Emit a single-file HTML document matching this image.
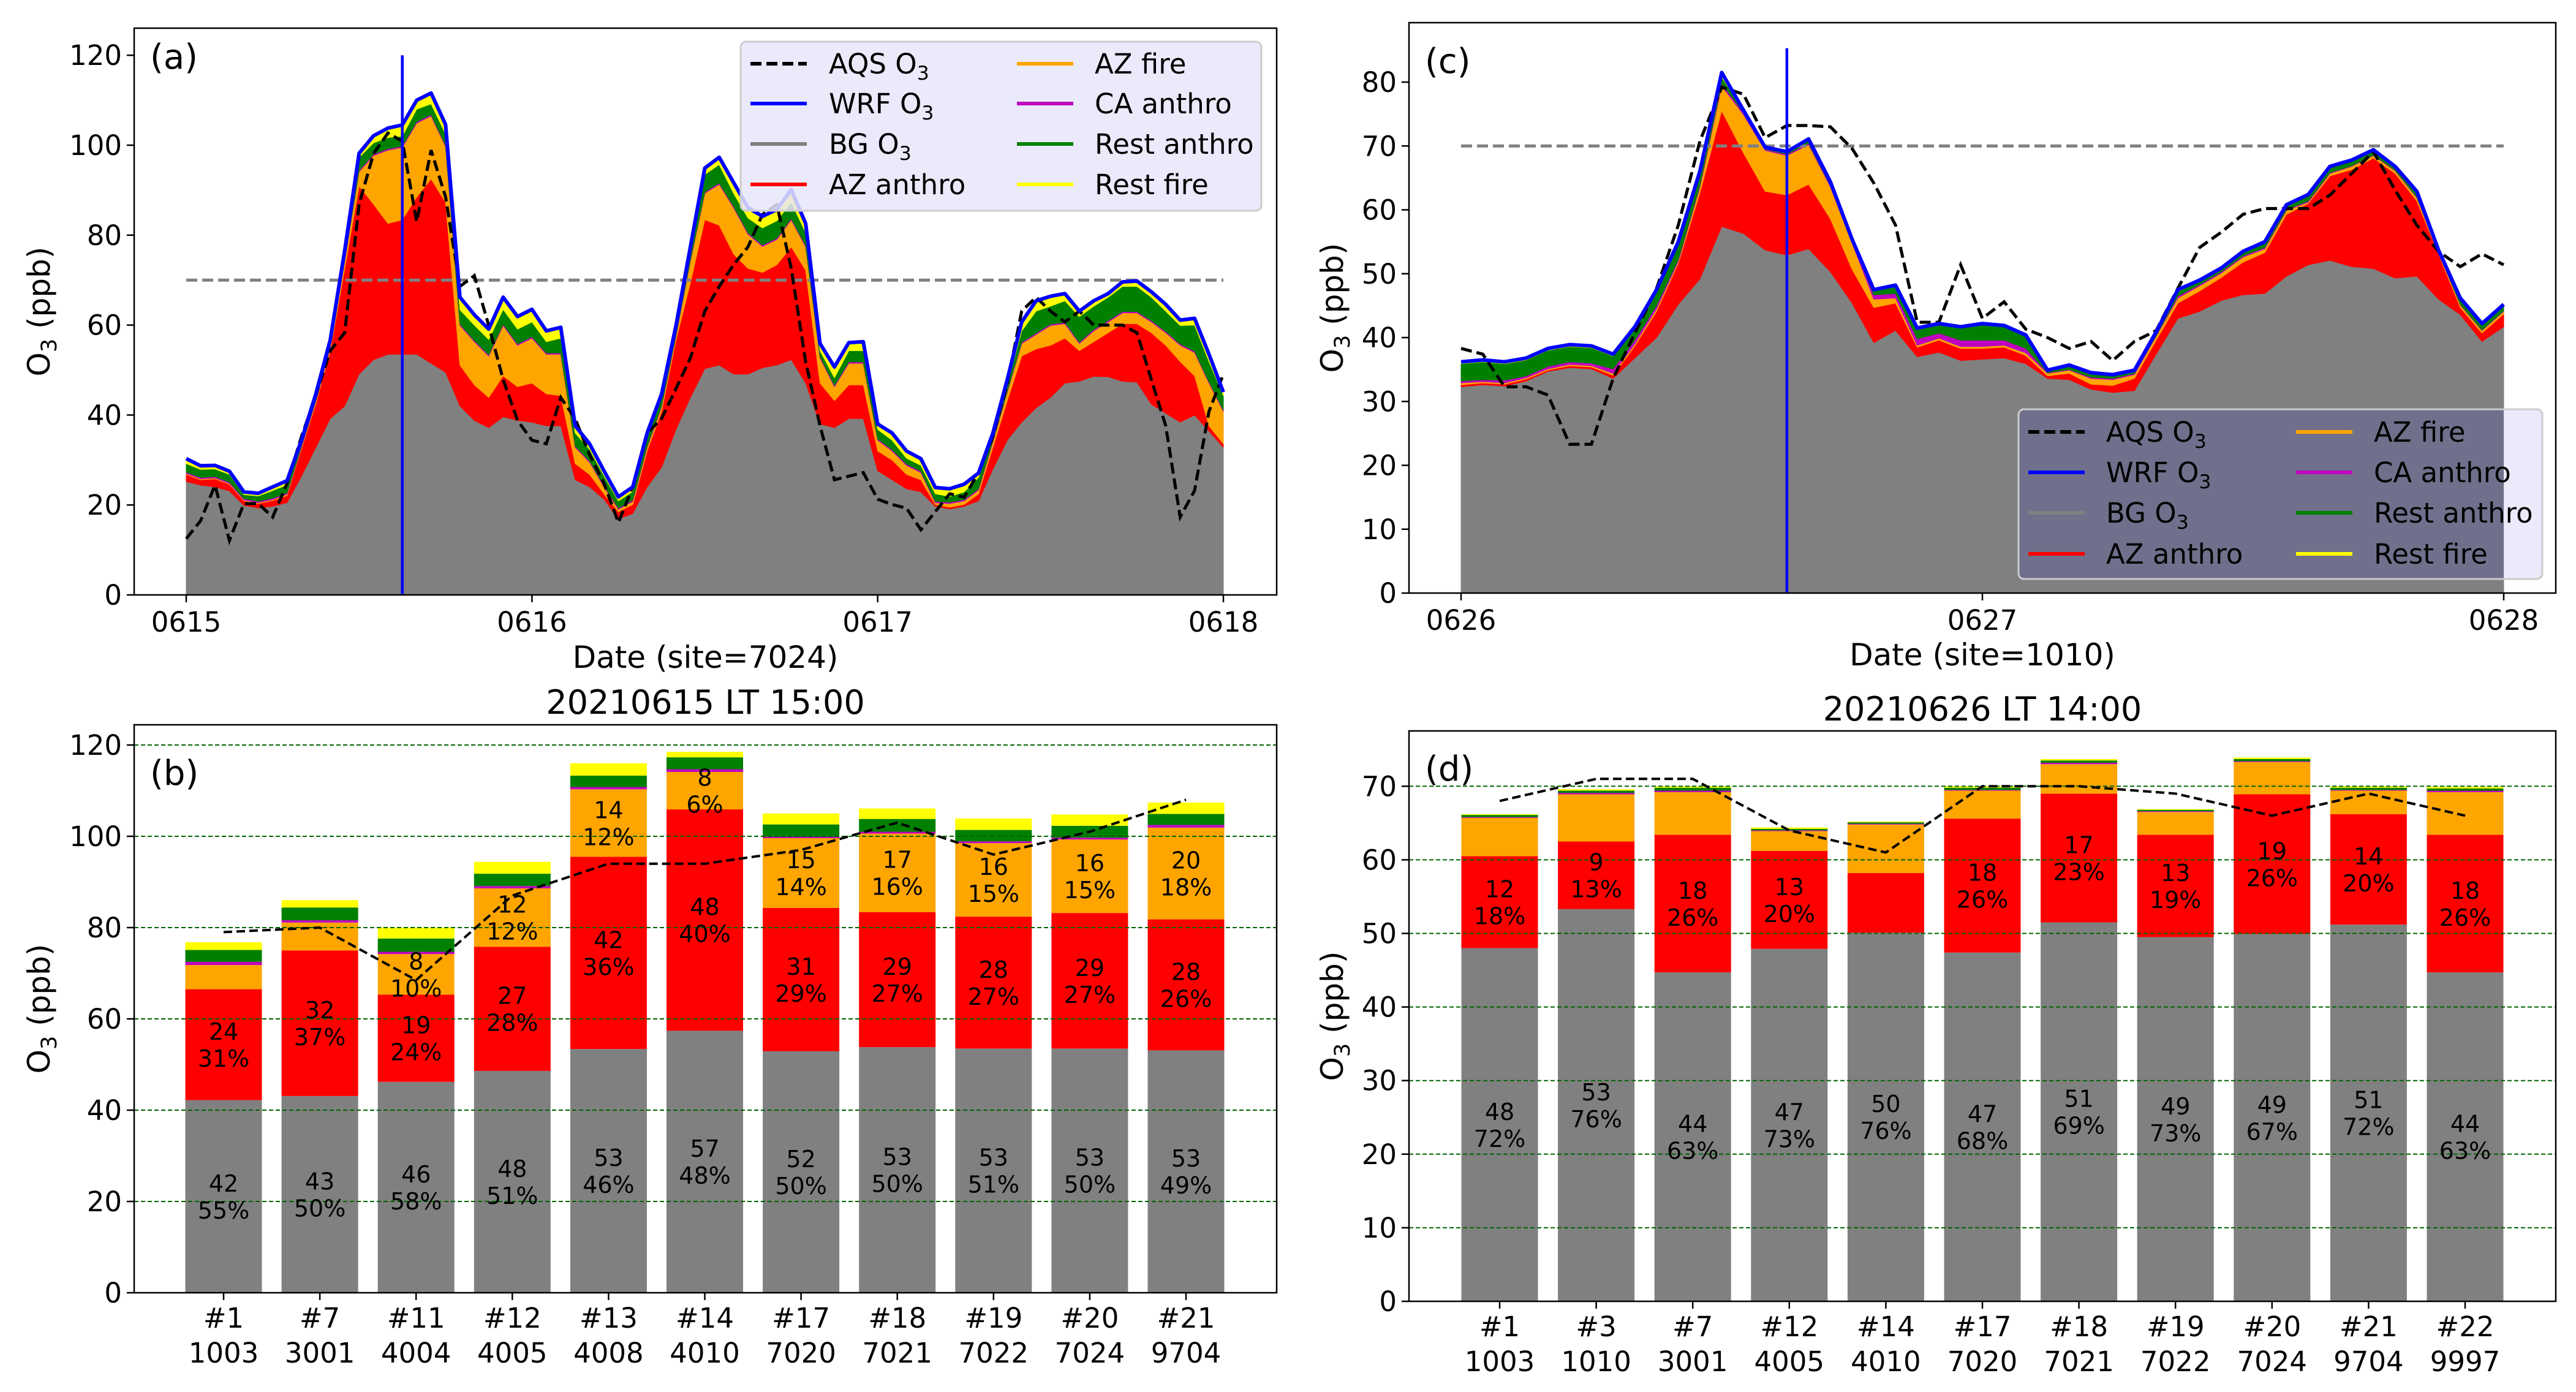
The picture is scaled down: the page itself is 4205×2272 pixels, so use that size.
<!DOCTYPE html>
<html><head><meta charset="utf-8">
<style>
body{margin:0;background:#fff;}
svg{display:block;font-family:"DejaVu Sans","Liberation Sans",sans-serif;}
</style></head>
<body>
<svg id="fig" width="4205" height="2272" viewBox="0 0 4205 2272" xmlns="http://www.w3.org/2000/svg"></svg>
<script>
// ---------- Panel (a) hourly data, 0615 00 .. 0618 00 ----------
const dayTicksA = ['0615','0616','0617','0618'];
const yTicksA = [0,20,40,60,80,100,120];
const bgA = [25.2,24.4,24.0,23.1,19.9,19.3,19.7,20.5,26.4,32.8,39.2,42.0,49.1,52.3,53.5,53.5,53.5,51.5,49.5,42.0,38.8,37.2,39.6,38.8,38.4,37.6,37.6,25.6,24.0,21.3,16.9,18.1,24.0,28.4,36.8,43.9,50.3,51.1,49.1,49.1,50.5,51.1,52.3,47.1,38.0,37.2,39.2,39.2,27.6,25.6,23.6,22.9,19.7,19.1,19.7,20.9,28.0,34.4,38.4,41.6,43.9,47.1,47.5,48.6,48.5,47.5,47.3,42.4,40.4,38.4,40.0,36.4,32.8];
const azAnthroTopA = [26.8,25.6,25.8,24.6,20.9,20.3,21.0,22.1,32.5,42.5,54.3,72.6,90.9,86.9,82.6,83.4,88.5,92.5,87.3,51.1,46.7,43.9,48.7,46.3,47.1,44.7,44.3,29.2,26.8,22.5,18.5,20.1,32.0,40.8,56.7,69.4,83.4,82.2,75.8,72.6,71.7,73.4,77.4,72.2,47.1,43.2,46.7,46.7,32.0,30.0,26.8,25.6,20.1,19.5,20.1,22.5,32.8,43.2,53.1,54.7,55.5,57.1,54.3,56.3,58.3,60.3,60.3,58.3,55.5,51.9,48.7,37.6,33.6];
const azFireTopA = [27.0,25.8,26.0,24.8,21.1,20.5,21.2,22.4,32.8,43.0,55.0,74.2,94.1,97.7,98.9,99.5,104.9,106.5,99.7,59.9,56.3,53.1,59.9,55.5,57.1,53.5,53.5,32.8,29.5,24.0,19.0,20.8,32.8,41.8,57.5,74.2,89.3,91.3,86.1,80.2,77.5,79.0,83.4,77.4,52.7,46.3,51.5,51.5,34.4,32.0,28.8,27.2,20.5,20.3,20.9,23.3,34.0,45.1,55.9,57.9,59.9,60.3,55.9,58.7,60.7,62.7,62.7,60.7,58.3,55.5,53.9,47.1,40.8];
const caTopA = [27.3,26.1,26.3,25.1,21.4,20.8,21.5,22.7,33.1,43.3,55.3,74.5,94.4,98.0,99.2,99.8,105.2,106.8,100.0,60.2,56.6,53.4,60.2,55.8,57.4,53.8,53.8,33.1,29.8,24.3,19.3,21.1,33.1,42.1,57.8,74.5,89.6,91.6,86.4,80.5,77.8,79.3,83.7,77.7,53.0,46.6,51.8,51.8,34.7,32.3,29.1,27.5,20.8,20.6,21.2,23.6,34.3,45.4,56.2,58.2,60.2,60.6,56.2,59.0,61.0,63.0,63.0,61.0,58.6,55.8,54.2,47.4,41.1];
const restAnthroTopA = [29.2,27.9,28.0,26.8,22.3,22.0,23.2,24.5,33.8,44.0,56.0,76.0,97.3,100.5,101.7,102.0,108.0,109.2,102.5,63.4,60.0,56.8,63.5,59.1,60.7,56.3,57.1,36.0,32.4,26.5,20.9,23.0,35.0,43.8,59.0,76.6,93.5,95.7,89.3,83.8,81.6,83.2,87.3,80.6,54.3,48.3,54.3,54.3,36.8,34.4,30.4,28.8,22.5,21.9,22.9,26.1,35.2,46.7,58.7,63.1,64.2,65.4,61.9,64.2,66.2,68.6,68.6,66.2,63.1,59.9,60.0,51.9,44.3];
const wrfA = [30.3,28.7,28.8,27.5,22.9,22.6,24.0,25.4,34.4,44.7,56.7,76.6,98.2,102.1,103.8,104.5,110.0,111.6,104.6,66.2,62.3,59.1,66.2,61.9,63.5,58.7,59.5,37.6,33.6,27.6,21.8,24.0,36.0,44.7,59.9,77.4,94.9,97.3,91.7,86.1,84.2,85.7,90.1,82.6,55.9,50.7,56.1,56.3,38.0,36.0,32.0,30.3,23.9,23.6,24.6,27.1,36.0,47.9,60.7,65.4,66.4,67.0,63.1,65.4,67.0,69.6,69.8,67.4,64.6,61.1,61.5,53.5,45.1];
const aqsA = [12.5,16.5,24.4,12.1,20.3,20.3,17.3,24.8,35.2,44.3,54.3,58.3,86.9,98.1,102.7,100.9,83.0,98.9,88.5,68.6,71.0,59.9,47.9,38.8,34.4,33.6,43.9,39.2,31.2,24.8,16.1,24.0,36.0,39.2,45.9,52.7,63.1,68.6,73.4,77.4,84.6,86.8,72.6,51.9,37.6,25.6,26.4,27.2,21.3,20.1,19.3,14.5,18.5,22.5,21.7,27.2,35.2,47.1,63.1,66.2,63.1,60.7,63.1,60.0,60.0,60.0,58.3,47.9,37.6,17.3,23.2,40.8,49.1];
const markHourA = 15;

// ---------- Panel (c) hourly data, 0626 00 .. 0628 00 ----------
const dayTicksC = ['0626','0627','0628'];
const yTicksC = [0,10,20,30,40,50,60,70,80];
const bgC = [32.3,32.6,32.4,33.2,34.7,35.3,35.1,33.6,36.8,40.0,45.2,49.2,57.4,56.3,53.7,52.9,53.9,50.3,45.4,39.2,41.1,37.0,37.7,36.4,36.6,36.8,35.9,33.6,33.4,31.9,31.4,31.7,37.4,43.0,44.1,45.8,46.7,46.9,49.6,51.4,52.1,51.1,50.8,49.3,49.6,46.0,43.6,39.4,41.7];
const azAnthroTopC = [32.6,32.9,32.7,33.5,34.9,35.6,35.4,34.1,38.7,44.1,51.6,62.7,75.5,68.9,62.9,62.3,64.0,58.6,50.7,44.7,45.4,38.5,39.6,38.3,38.3,38.5,37.2,34.0,34.4,32.7,32.5,33.6,39.6,45.4,47.3,49.4,51.8,53.3,59.3,61.0,65.3,66.3,68.1,65.7,61.4,53.1,44.7,40.7,43.7];
const azFireTopC = [32.9,33.1,32.9,33.7,35.1,35.8,35.6,34.4,39.0,44.5,51.9,63.6,79.4,74.9,69.3,68.5,70.2,63.6,54.8,46.0,46.2,38.8,39.9,38.6,38.6,38.8,37.6,34.4,34.9,33.6,33.4,34.2,40.2,46.2,48.1,50.1,52.6,53.9,59.9,61.2,65.7,66.8,68.5,66.1,61.9,53.3,45.1,41.1,44.1];
const caTopC = [33.2,33.4,33.3,34.0,35.5,36.2,36.0,35.1,39.6,45.0,52.2,63.9,79.8,75.2,69.5,68.7,70.4,63.8,55.0,46.7,46.9,39.8,40.7,39.6,39.6,39.6,38.3,34.5,35.0,33.8,33.6,34.4,40.3,46.5,48.3,50.3,52.8,54.1,60.0,61.4,65.8,66.9,68.6,66.2,62.0,53.4,45.2,41.2,44.2];
const restAnthroTopC = [35.9,36.2,35.9,36.5,38.0,38.6,38.4,37.1,41.4,47.2,54.7,65.8,80.8,75.4,69.7,68.9,70.9,64.2,55.2,47.3,48.0,41.3,42.0,41.5,42.0,41.7,40.2,34.8,35.5,34.3,34.0,34.7,40.7,47.2,48.8,50.7,53.3,54.8,60.6,62.2,66.6,67.6,69.2,66.6,62.7,53.5,46.0,42.0,45.0];
const wrfC = [36.2,36.5,36.2,36.8,38.3,38.9,38.7,37.4,41.7,47.5,55.0,66.1,81.5,75.6,69.8,69.1,71.1,64.4,55.4,47.5,48.2,41.5,42.2,41.7,42.2,41.9,40.4,34.9,35.7,34.5,34.2,34.9,40.9,47.5,49.0,50.9,53.5,55.0,60.8,62.4,66.8,67.8,69.4,66.8,62.9,53.7,46.2,42.2,45.2];
const aqsC = [38.3,37.4,32.3,32.3,31.0,23.3,23.3,33.6,40.7,47.7,57.6,70.8,79.2,78.1,71.3,73.2,73.2,73.0,69.6,64.2,57.6,42.4,42.4,51.4,43.0,45.6,41.3,40.0,38.3,39.4,36.4,39.4,41.1,47.7,54.1,56.5,59.3,60.2,60.2,60.2,62.3,65.7,69.1,63.1,57.6,53.5,51.1,53.1,51.4];
const markHourC = 15;

// ---------- Panel (b) bars ----------
const sitesB = ['#1','#7','#11','#12','#13','#14','#17','#18','#19','#20','#21'];
const idsB = ['1003','3001','4004','4005','4008','4010','7020','7021','7022','7024','9704'];
const yTicksB = [0,20,40,60,80,100,120];
const bgB = [42.2,43.1,46.2,48.6,53.4,57.4,52.9,53.8,53.5,53.5,53.1];
const azAnthroB = [24.3,31.9,19.1,27.2,42.1,48.5,31.4,29.6,28.9,29.7,28.7];
const azFireB = [5.3,6.1,8.9,12.8,14.8,8.2,15.3,17.2,16.1,16.1,20.1];
const caAnthroB = [0.7,0.5,0.5,0.5,0.5,0.6,0.3,0.4,0.4,0.4,0.6];
const restAnthroB = [2.6,2.8,2.9,2.7,2.5,2.6,2.7,2.8,2.5,2.6,2.4];
const restFireB = [1.7,1.6,2.4,2.6,2.7,1.2,2.4,2.3,2.5,2.5,2.5];
const aqsB = [79,80,68.5,87,94,94,97,103,96,101,108];
const bgValB = ['42','43','46','48','53','57','52','53','53','53','53'];
const bgPctB = ['55%','50%','58%','51%','46%','48%','50%','50%','51%','50%','49%'];
const azAVal_B = ['24','32','19','27','42','48','31','29','28','29','28'];
const azAPct_B = ['31%','37%','24%','28%','36%','40%','29%','27%','27%','27%','26%'];
const azFVal_B = ['','','8','12','14','8','15','17','16','16','20'];
const azFPct_B = ['','','10%','12%','12%','6%','14%','16%','15%','15%','18%'];

// ---------- Panel (d) bars ----------
const sitesD = ['#1','#3','#7','#12','#14','#17','#18','#19','#20','#21','#22'];
const idsD = ['1003','1010','3001','4005','4010','7020','7021','7022','7024','9704','9997'];
const yTicksD = [0,10,20,30,40,50,60,70];
const bgD = [48.0,53.3,44.7,47.9,50.1,47.4,51.5,49.5,49.9,51.2,44.7];
const azAnthroD = [12.5,9.2,18.7,13.3,8.1,18.2,17.5,13.9,19.0,15.0,18.7];
const azFireD = [5.2,6.4,5.8,2.7,6.6,3.8,4.0,3.1,4.4,3.2,5.8];
const caAnthroD = [0.1,0.2,0.2,0.1,0.1,0.1,0.2,0.1,0.1,0.1,0.2];
const restAnthroD = [0.3,0.3,0.4,0.2,0.2,0.3,0.3,0.2,0.3,0.3,0.3];
const restFireD = [0.1,0.2,0.2,0.2,0.1,0.2,0.2,0.1,0.2,0.2,0.2];
const aqsD = [68,71,71,64,61,70,70,69,66,69,66];
const bgValD = ['48','53','44','47','50','47','51','49','49','51','44'];
const bgPctD = ['72%','76%','63%','73%','76%','68%','69%','73%','67%','72%','63%'];
const azAVal_D = ['12','9','18','13','','18','17','13','19','14','18'];
const azAPct_D = ['18%','13%','26%','20%','','26%','23%','19%','26%','20%','26%'];

const COLORS = ['#808080','#ff0000','#ffa500','#bf00bf','#008000','#ffff00'];
const LAYER_NAMES = ['bg-o3','az-anthro','az-fire','ca-anthro','rest-anthro','rest-fire'];

const NS = 'http://www.w3.org/2000/svg';
const svg = document.getElementById('fig');
function el(tag, attrs, parent){
  const e = document.createElementNS(NS, tag);
  for (const k in attrs) e.setAttribute(k, attrs[k]);
  (parent || svg).appendChild(e);
  return e;
}
function txt(parent, x, y, str, size, anchor, name){
  const t = el('text', {x:x, y:y, 'font-size':size, 'text-anchor':anchor||'middle', fill:'#000'}, parent);
  t.textContent = str;
  
  
  return t;
}
function o3txt(parent, x, y, pre, post, size, anchor, name){
  const t = el('text', {x:x, y:y, 'font-size':size, 'text-anchor':anchor||'start', fill:'#000'}, parent);
  t.appendChild(document.createTextNode(pre + 'O'));
  const s = el('tspan', {dy: size*0.22, 'font-size': size*0.7}, t);
  s.textContent = '3';
  const r = el('tspan', {dy: -size*0.22}, t);
  r.textContent = post;
  
  
  return t;
}
function yLabel(parent, x, y){
  const g = el('g', {transform:'rotate(-90 '+x+' '+y+')'}, parent);
  
  
  o3txt(g, x, y+18, '', ' (ppb)', 50, 'middle', 'y-axis-title-text');
}

// ---------- time-series panel ----------
function drawTS(P){
  const g = el('g', {});
  
  
  const n = P.layers[0].length;
  const xs = i => P.xStart + i*(P.xEnd - P.xStart)/(n-1);
  const yv = v => P.y1 - v*P.pxPer;
  const layerG = el('g', {}, g);
  
  
  for (let k=0; k<P.layers.length; k++){
    const top = P.layers[k];
    const bot = k ? P.layers[k-1] : null;
    let pts = [];
    for (let i=0;i<n;i++) pts.push(xs(i).toFixed(1)+','+yv(top[i]).toFixed(1));
    for (let i=n-1;i>=0;i--) pts.push(xs(i).toFixed(1)+','+yv(bot?bot[i]:0).toFixed(1));
    const poly = el('polygon', {points:pts.join(' '), fill:COLORS[k], stroke:COLORS[k], 'stroke-width':1}, layerG);
    
    
  }
  const std = el('line', {x1:xs(0), x2:xs(n-1), y1:yv(70), y2:yv(70), stroke:'#808080', 'stroke-width':5, 'stroke-dasharray':'18 8'}, g);
  
  
  let ap = [];
  for (let i=0;i<n;i++) ap.push(xs(i).toFixed(1)+','+yv(P.aqs[i]).toFixed(1));
  const aq = el('polyline', {points:ap.join(' '), fill:'none', stroke:'#000', 'stroke-width':5, 'stroke-dasharray':'18 8'}, g);
  
  
  let wp = [];
  for (let i=0;i<n;i++) wp.push(xs(i).toFixed(1)+','+yv(P.wrf[i]).toFixed(1));
  const wl = el('polyline', {points:wp.join(' '), fill:'none', stroke:'#0000ff', 'stroke-width':6, 'stroke-linejoin':'round'}, g);
  
  
  const vl = el('line', {x1:xs(P.markHour), x2:xs(P.markHour), y1:yv(P.markTop), y2:P.y1, stroke:'#0000ff', 'stroke-width':4.5}, g);
  
  
  // axes frame
  const fr = el('rect', {x:P.x0, y:P.y0, width:P.x1-P.x0, height:P.y1-P.y0, fill:'none', stroke:'#000', 'stroke-width':2.5}, g);
  
  
  // y ticks
  for (const v of P.yTicks){
    const y = yv(v);
    const tk = el('line', {x1:P.x0-12, x2:P.x0, y1:y, y2:y, stroke:'#000', 'stroke-width':2.5}, g);
    
    
    txt(g, P.x0-20, y+16, String(v), 45, 'end', 'y-tick-label');
  }
  // x ticks
  const days = P.dayTicks.length - 1;
  for (let d=0; d<=days; d++){
    const x = P.xStart + d*(P.xEnd-P.xStart)/days;
    const tk = el('line', {x1:x, x2:x, y1:P.y1, y2:P.y1+12, stroke:'#000', 'stroke-width':2.5}, g);
    
    
    txt(g, x, P.y1+60, P.dayTicks[d], 45, 'middle', 'x-tick-label');
  }
  txt(g, (P.x0+P.x1)/2, P.xLabelY, P.xLabel, 50, 'middle', 'x-axis-title');
  yLabel(g, P.yLabelX, (P.y0+P.y1)/2);
  txt(g, P.x0+26, P.panelY, P.panel, 56, 'start', 'panel-label');
  return g;
}

function drawLegend(L){
  const g = el('g', {});
  
  
  const bx = el('rect', {x:L.x, y:L.y, width:L.w, height:L.h, rx:9, fill:'#e6e6fa', 'fill-opacity':0.85, stroke:'#cccccc', 'stroke-width':3}, g);
  
  
  if (L.darkTo){
    const dk = el('rect', {x:L.x+1.5, y:L.y+1.5, width:L.darkTo-L.x-1.5, height:L.h-3, fill:'#70708c'}, g);
    
    
    const bd = el('rect', {x:L.x, y:L.y, width:L.w, height:L.h, rx:9, fill:'none', stroke:'#cccccc', 'stroke-width':3}, g);
    
    
  }
  const entries = [
    ['AQS ','#000',true,true,'aqs'],['WRF ','#0000ff',false,true,'wrf'],['BG ','#808080',false,true,'bg'],['AZ anthro','#ff0000',false,false,'az-anthro'],
    ['AZ fire','#ffa500',false,false,'az-fire'],['CA anthro','#bf00bf',false,false,'ca-anthro'],['Rest anthro','#008000',false,false,'rest-anthro'],['Rest fire','#ffff00',false,false,'rest-fire']];
  for (let j=0;j<8;j++){
    const col = j<4 ? 0 : 1, row = j%4;
    const hx = L.hx[col], tx = L.tx[col], yc = L.rows[row];
    const e = entries[j];
    const eg = el('g', {}, g);
    
    
    const ln = el('line', {x1:hx, x2:hx+92, y1:yc, y2:yc, stroke:e[1], 'stroke-width':6}, eg);
    if (e[2]) ln.setAttribute('stroke-dasharray', '18 8');
    
    
    if (e[3]) o3txt(eg, tx, yc+16, e[0], '', 45, 'start', 'legend-label');
    else txt(eg, tx, yc+16, e[0], 45, 'start', 'legend-label');
  }
}

// ---------- bar panel ----------
function drawBars(P){
  const g = el('g', {});
  
  
  const yv = v => P.y1 - v*P.pxPer;
  const xc = k => P.xFirst + k*P.step;
  const n = P.sites.length;
  for (let k=0;k<n;k++){
    let cum = 0;
    const bg = el('g', {}, g);
    
    
    for (let j=0;j<P.comps.length;j++){
      const h = P.comps[j][k];
      const r = el('rect', {x:xc(k)-62.5, y:yv(cum+h), width:125, height:Math.max(0,yv(cum)-yv(cum+h)), fill:COLORS[j]}, bg);
      
      
      cum += h;
    }
  }
  for (const v of P.yTicks){
    const y = yv(v);
    if (v>0){
      const gl = el('line', {x1:P.x0, x2:P.x1, y1:y, y2:y, stroke:'#006400', 'stroke-width':2, 'stroke-dasharray':'7 4'}, g);
      
      
    }
    const tk = el('line', {x1:P.x0-12, x2:P.x0, y1:y, y2:y, stroke:'#000', 'stroke-width':2.5}, g);
    
    
    txt(g, P.x0-20, y+16, String(v), 45, 'end', 'y-tick-label');
  }
  // value labels
  for (let k=0;k<n;k++){
    const b = P.comps[0][k], a = P.comps[1][k], f = P.comps[2][k];
    const spots = [[b/2, P.bgVal[k], P.bgPct[k], 'bg'], [b+a/2, P.aVal[k], P.aPct[k], 'az-anthro']];
    if (P.fVal) spots.push([b+a+f/2, P.fVal[k], P.fPct[k], 'az-fire']);
    for (const s of spots){
      if (!s[1]) continue;
      const m = yv(s[0]);
      txt(g, xc(k), m-8, s[1], 38, 'middle', 'value-label-'+s[3]);
      txt(g, xc(k), m+36, s[2], 38, 'middle', 'percent-label-'+s[3]);
    }
  }
  let ap = [];
  for (let k=0;k<n;k++) ap.push(xc(k).toFixed(1)+','+yv(P.aqs[k]).toFixed(1));
  const aq = el('polyline', {points:ap.join(' '), fill:'none', stroke:'#000', 'stroke-width':4, 'stroke-dasharray':'14 7'}, g);
  
  
  const fr = el('rect', {x:P.x0, y:P.y0, width:P.x1-P.x0, height:P.y1-P.y0, fill:'none', stroke:'#000', 'stroke-width':2.5}, g);
  
  
  for (let k=0;k<n;k++){
    const tk = el('line', {x1:xc(k), x2:xc(k), y1:P.y1, y2:P.y1+12, stroke:'#000', 'stroke-width':2.5}, g);
    
    
    txt(g, xc(k), P.y1+57, P.sites[k], 45, 'middle', 'x-tick-label-site');
    txt(g, xc(k), P.y1+114, P.ids[k], 45, 'middle', 'x-tick-label-id');
  }
  txt(g, (P.x0+P.x1)/2, P.titleY, P.title, 54, 'middle', 'chart-title');
  yLabel(g, P.yLabelX, (P.y0+P.y1)/2);
  txt(g, P.x0+26, P.panelY, P.panel, 56, 'start', 'panel-label');
}

drawTS({name:'panel-a-timeseries', x0:219, x1:2084, y0:46, y1:971, xStart:304, xEnd:1997, pxPer:7.34,
  layers:[bgA, azAnthroTopA, azFireTopA, caTopA, restAnthroTopA, wrfA], aqs:aqsA, wrf:wrfA,
  markHour:markHourA, markTop:120, yTicks:yTicksA, dayTicks:dayTicksA, xLabel:'Date (site=7024)', xLabelY:1090,
  yLabelX:63, panel:'(a)', panelY:112});
drawLegend({x:1209, y:68, w:850, h:276, rows:[104,169,235,301], hx:[1225,1660], tx:[1353,1787]});

drawTS({name:'panel-c-timeseries', x0:2300, x1:4172, y0:37, y1:968, xStart:2385, xEnd:4087, pxPer:10.425,
  layers:[bgC, azAnthroTopC, azFireTopC, caTopC, restAnthroTopC, wrfC], aqs:aqsC, wrf:wrfC,
  markHour:markHourC, markTop:85.3, yTicks:yTicksC, dayTicks:dayTicksC, xLabel:'Date (site=1010)', xLabelY:1086,
  yLabelX:2174, panel:'(c)', panelY:119});
drawLegend({x:3295, y:668, w:855, h:277, rows:[705,771,837,904], hx:[3311,3748], tx:[3438,3875], darkTo:4087});

drawBars({name:'panel-b-bars', x0:219, x1:2084, y0:1183, y1:2110, pxPer:7.45, xFirst:365, step:157.1,
  sites:sitesB, ids:idsB, comps:[bgB, azAnthroB, azFireB, caAnthroB, restAnthroB, restFireB], aqs:aqsB,
  yTicks:yTicksB, bgVal:bgValB, bgPct:bgPctB, aVal:azAVal_B, aPct:azAPct_B, fVal:azFVal_B, fPct:azFPct_B,
  title:'20210615 LT 15:00', titleY:1165, yLabelX:63, panel:'(b)', panelY:1281});

drawBars({name:'panel-d-bars', x0:2300, x1:4172, y0:1193, y1:2124, pxPer:12.01, xFirst:2448, step:157.6,
  sites:sitesD, ids:idsD, comps:[bgD, azAnthroD, azFireD, caAnthroD, restAnthroD, restFireD], aqs:aqsD,
  yTicks:yTicksD, bgVal:bgValD, bgPct:bgPctD, aVal:azAVal_D, aPct:azAPct_D, fVal:null, fPct:null,
  title:'20210626 LT 14:00', titleY:1176, yLabelX:2174, panel:'(d)', panelY:1274});
</script>
</body></html>
